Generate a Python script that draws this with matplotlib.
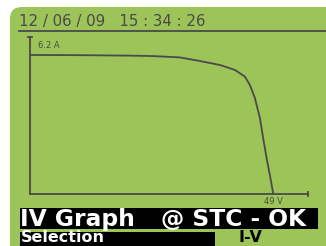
import matplotlib
matplotlib.use("Agg")
import matplotlib.pyplot as plt
from matplotlib.patches import FancyBboxPatch, Rectangle

# Data (IV curve)
voltage = [0, 10, 20, 24.8, 30.2, 34.2, 38.3, 41.3, 43.3, 44.3, 45.3, 46.3, 47.0, 47.7, 48.4, 49.0]
current = [6.2, 6.19, 6.17, 6.15, 6.09, 5.93, 5.75, 5.53, 5.23, 4.86, 4.28, 3.4, 2.45, 1.55, 0.75, 0.0]
header = "12 / 06 / 09   15 : 34 : 26"
isc_label = "6.2 A"
voc_label = "49 V"
title_left = "IV Graph"
title_right = "@ STC - OK"
sel_label = "Selection"
sel_value = "I-V"

W, H = 326, 246
fig = plt.figure(figsize=(W / 100, H / 100), dpi=100)
fig.patch.set_facecolor("white")

green = "#9CC458"
ink = "#4a4a4a"

# overlay in pixel coords
ov = fig.add_axes([0, 0, 1, 1])
ov.set_xlim(0, W)
ov.set_ylim(H, 0)
ov.axis("off")

ov.add_patch(FancyBboxPatch((10, 7), W + 20, H + 20, boxstyle="round,pad=0,rounding_size=12",
                            facecolor=green, edgecolor="none"))
ov.text(19, 26, header, fontsize=10.8, color=ink, family="DejaVu Sans", va="baseline")
ov.plot([19, W], [30.5, 30.5], color=ink, lw=1.3)

# black bars
ov.add_patch(Rectangle((20, 208), 298, 21, facecolor="black", edgecolor="none"))
ov.text(20, 226, title_left, fontsize=16.8, color="white", fontweight="bold",
        family="DejaVu Sans", va="baseline")
ov.text(161, 226, title_right, fontsize=16.8, color="white", fontweight="bold",
        family="DejaVu Sans", va="baseline")
ov.add_patch(Rectangle((20, 232), 195, 20, facecolor="black", edgecolor="none"))
ov.text(21, 245.5, sel_label, fontsize=11.5, color="white", fontweight="bold",
        family="DejaVu Sans", va="bottom")
ov.text(238, 245.5, sel_value, fontsize=11.5, color="black", fontweight="bold",
        family="DejaVu Sans", va="bottom")

# data axes: x 0..56 V -> px 30..308, y 0..7 A -> py 194..37
x0, x1, y0, y1 = 30, 308, 194, 37
ax = fig.add_axes([x0 / W, 1 - y0 / H, (x1 - x0) / W, (y0 - y1) / H])
ax.set_xlim(0, 56)
ax.set_ylim(0, 7)
ax.patch.set_alpha(0)
for s in ["top", "right"]:
    ax.spines[s].set_visible(False)
for s in ["left", "bottom"]:
    ax.spines[s].set_color(ink)
    ax.spines[s].set_linewidth(1.3)
ax.set_xticks([])
ax.set_yticks([])
ax.plot(voltage, current, color=ink, lw=1.3, clip_on=False)
ax.plot([56, 56], [-0.1, 0.1], color=ink, lw=1.3, clip_on=False)
ax.plot([-0.35, 0.35], [7, 7], color=ink, lw=1.3, clip_on=False)
ax.text(1.6, 6.6, isc_label, fontsize=6, color=ink, va="center")
ax.text(49, -0.12, voc_label, fontsize=6, color=ink, ha="center", va="top")

fig.savefig("out.png", dpi=100, facecolor="white")
